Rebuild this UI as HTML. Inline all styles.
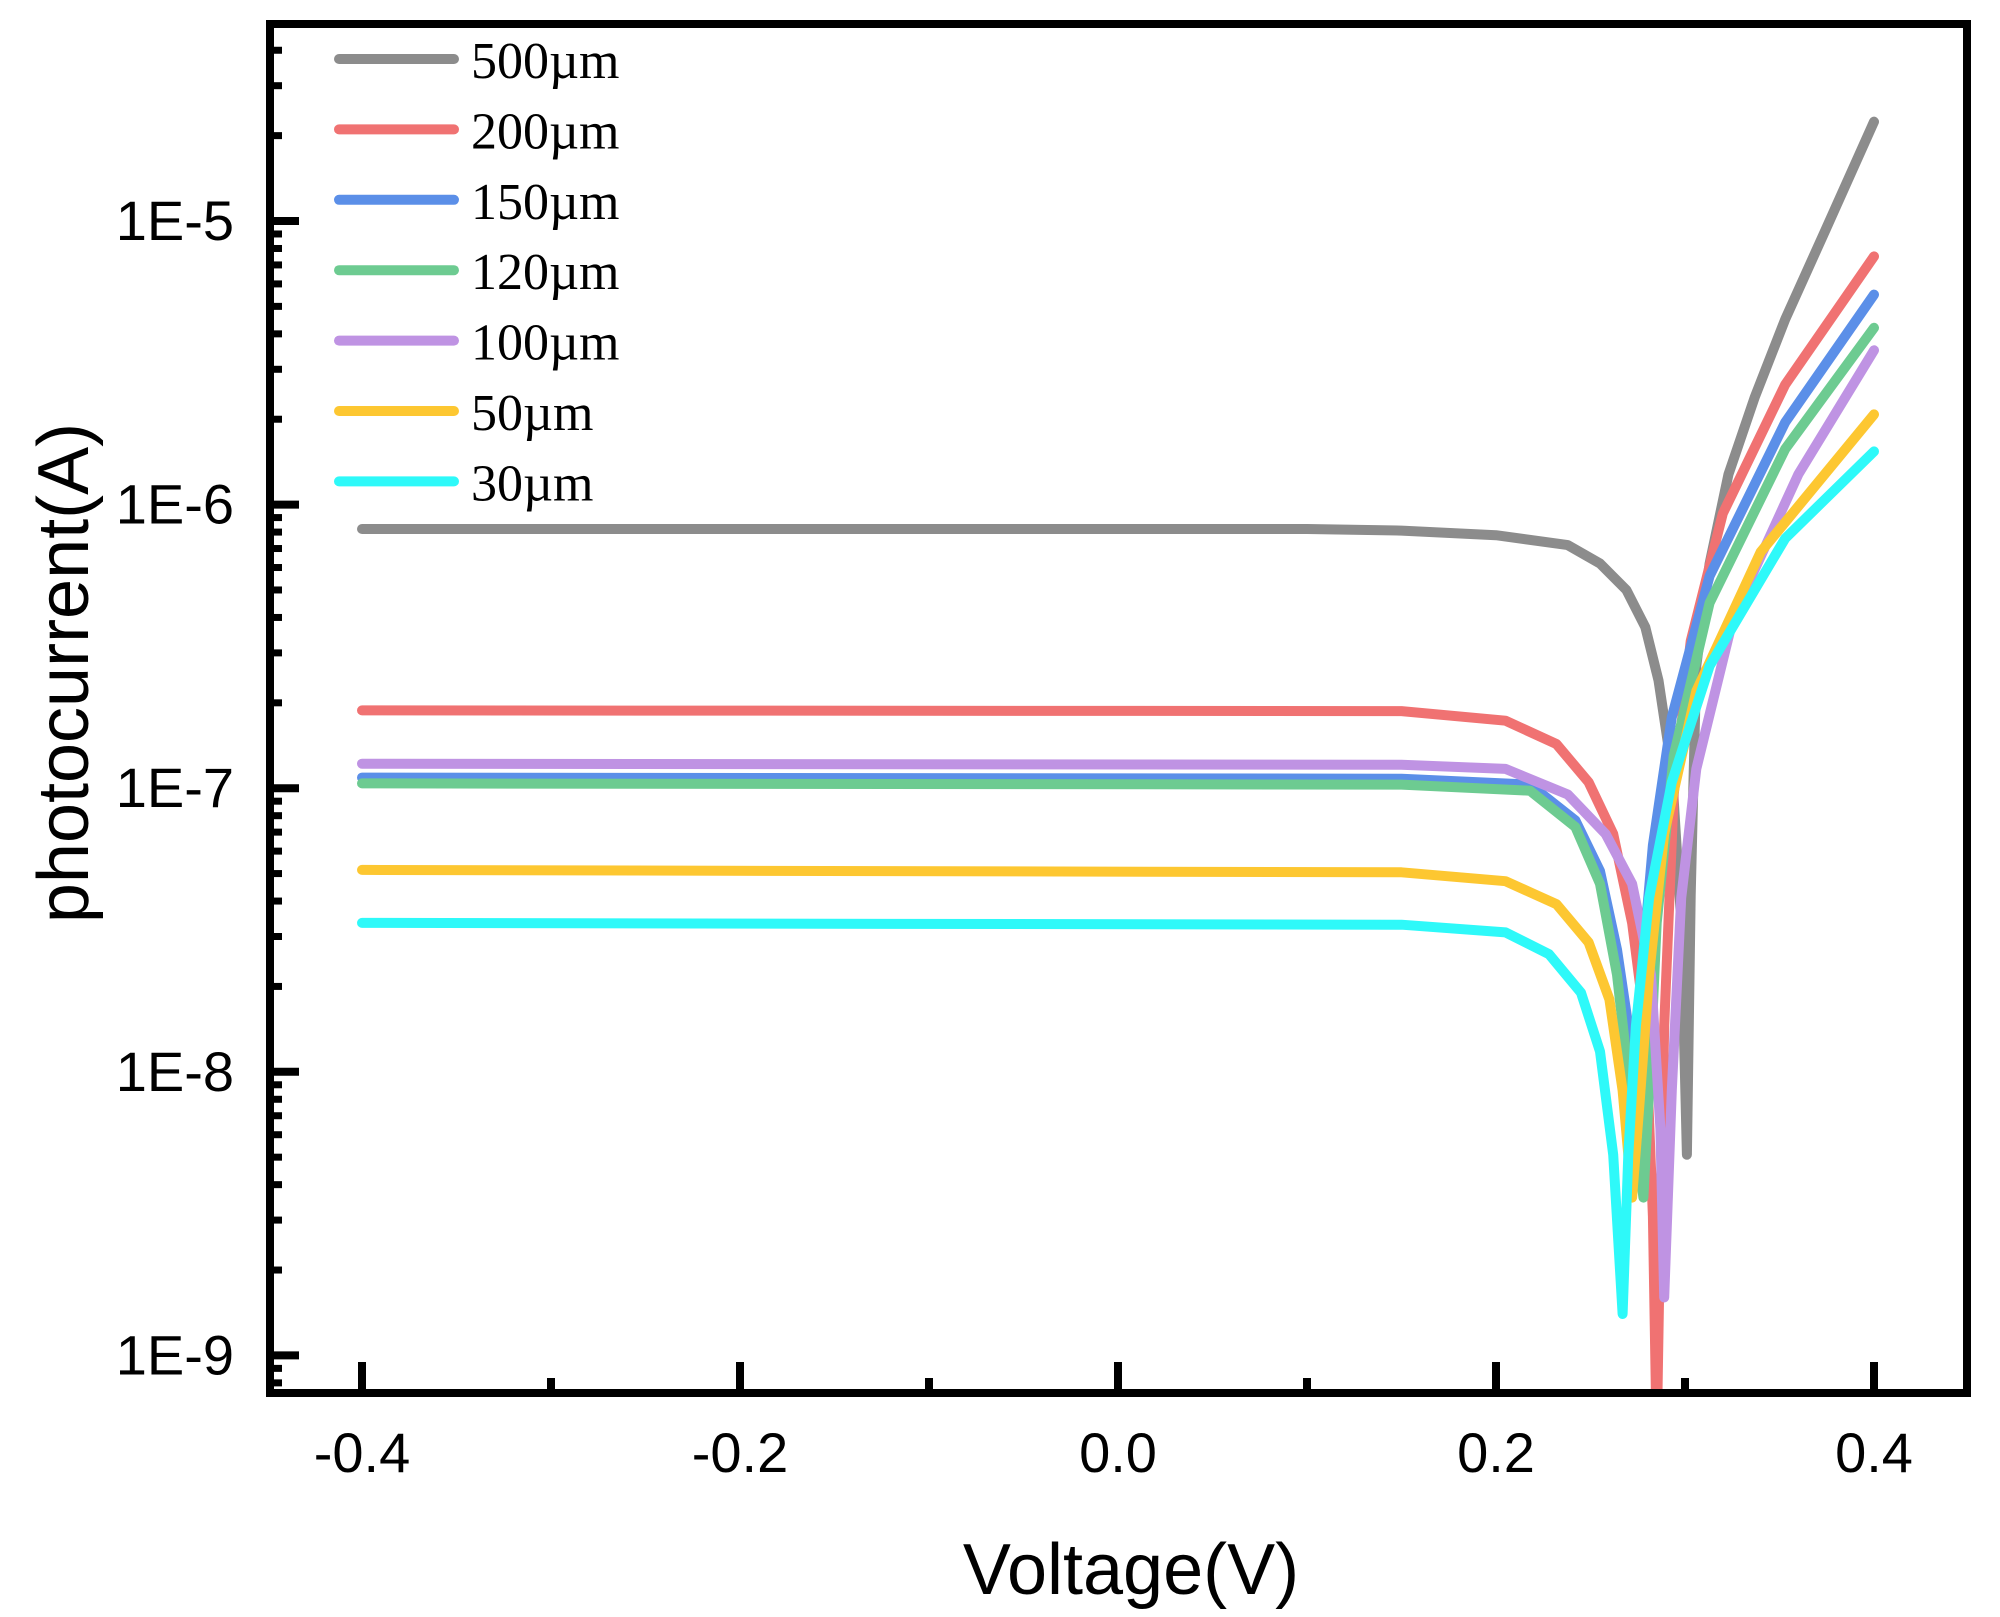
<!DOCTYPE html>
<html><head><meta charset="utf-8"><style>
html,body{margin:0;padding:0;background:#fff;}
svg{display:block;}
</style></head><body>
<svg id="chart" width="2000" height="1617" viewBox="0 0 2000 1617" xmlns="http://www.w3.org/2000/svg">
<defs><clipPath id="plotClip"><rect x="272" y="28" width="1691" height="1361"/></clipPath></defs>
<g id="series" clip-path="url(#plotClip)"></g>
<g id="axes"></g>
<g id="legend"></g>
<text x="1131" y="1594" font-family="Liberation Sans, sans-serif" font-size="72" text-anchor="middle">Voltage(V)</text>
<text transform="translate(88,673) rotate(-90)" font-family="Liberation Sans, sans-serif" font-size="72" text-anchor="middle">photocurrent(A)</text>
</svg>
<script>
const seriesNames = ["500µm","200µm","150µm","120µm","100µm","50µm","30µm"];
const seriesColors = ["#8c8c8c","#f07272","#5b8fe8","#6dcb91","#bf93e3","#fdc731","#2ef9f9"];
const v500 = [-0.4,0.1,0.15,0.2,0.238,0.255,0.269,0.279,0.286,0.293,0.298,0.301,0.303,0.306,0.313,0.323,0.337,0.353,0.374,0.4];
const i500 = [8.2e-7,8.2e-7,8.1e-7,7.8e-7,7.2e-7,6.2e-7,5.0e-7,3.7e-7,2.4e-7,1.17e-7,3.4e-8,5.1e-9,4.2e-8,2.7e-7,6.2e-7,1.28e-6,2.4e-6,4.5e-6,9.2e-6,2.24e-5];
const v200 = [-0.4,0.15,0.205,0.232,0.249,0.262,0.272,0.279,0.283,0.285,0.287,0.289,0.294,0.303,0.32,0.353,0.4];
const i200 = [1.88e-7,1.87e-7,1.73e-7,1.43e-7,1.05e-7,6.9e-8,3.35e-8,1.45e-8,3.1e-9,5e-10,3.1e-9,1.45e-8,9.5e-8,3.3e-7,9.3e-7,2.65e-6,7.5e-6];
const v150 = [-0.4,0.15,0.218,0.242,0.255,0.264,0.27,0.274,0.277,0.283,0.293,0.313,0.353,0.4];
const i150 = [1.09e-7,1.08e-7,1.03e-7,7.7e-8,5.1e-8,2.7e-8,1.45e-8,8.2e-9,2.2e-8,6.3e-8,1.78e-7,5.6e-7,1.95e-6,5.5e-6];
const v120 = [-0.4,0.15,0.218,0.242,0.255,0.264,0.271,0.278,0.281,0.285,0.294,0.313,0.353,0.4];
const i120 = [1.04e-7,1.03e-7,9.8e-8,7.3e-8,4.6e-8,2.2e-8,8.6e-9,3.6e-9,8.6e-9,3.35e-8,1.3e-7,4.5e-7,1.57e-6,4.2e-6];
const v100 = [-0.4,0.15,0.205,0.238,0.258,0.272,0.282,0.287,0.289,0.293,0.298,0.306,0.326,0.36,0.4];
const i100 = [1.22e-7,1.21e-7,1.17e-7,9.5e-8,6.9e-8,4.6e-8,2.2e-8,6.3e-9,1.6e-9,8.6e-9,4.1e-8,1.17e-7,4.1e-7,1.28e-6,3.5e-6];
const v50 = [-0.4,0.15,0.205,0.232,0.249,0.26,0.267,0.272,0.276,0.281,0.289,0.306,0.34,0.4];
const i50 = [5.15e-8,5.05e-8,4.7e-8,3.9e-8,2.86e-8,1.8e-8,8.6e-9,3.6e-9,7.8e-9,2.2e-8,6.9e-8,2.2e-7,6.8e-7,2.08e-6];
const v30 = [-0.4,0.15,0.205,0.228,0.245,0.255,0.262,0.267,0.27,0.274,0.281,0.293,0.313,0.353,0.4];
const i30 = [3.35e-8,3.3e-8,3.1e-8,2.6e-8,1.9e-8,1.18e-8,5.1e-9,1.4e-9,5.1e-9,1.45e-8,4.1e-8,1.05e-7,2.7e-7,7.6e-7,1.54e-6];
const xTicks = [-0.4,-0.2,0.0,0.2,0.4];
const xTickLabels = ["-0.4","-0.2","0.0","0.2","0.4"];
const xMinorTicks = [-0.3,-0.1,0.1,0.3];
const yTickExps = [-9,-8,-7,-6,-5];
const yTickLabels = ["1E-9","1E-8","1E-7","1E-6","1E-5"];

const allV = [v500,v200,v150,v120,v100,v50,v30];
const allI = [i500,i200,i150,i120,i100,i50,i30];
const NS = "http://www.w3.org/2000/svg";
function xS(v){ return 362 + (v + 0.4) * 1890; }
function yS(val){ return 221 + (-5 - Math.log10(val)) * 283.6; }
function mk(tag, attrs, parent){ const e = document.createElementNS(NS, tag); for (const k in attrs) e.setAttribute(k, attrs[k]); parent.appendChild(e); return e; }

const sg = document.getElementById('series');
for (let s = 0; s < allV.length; s++) {
  const pts = allV[s].map((v, j) => xS(v).toFixed(1) + ',' + yS(allI[s][j]).toFixed(1)).join(' ');
  const pl = mk('polyline', {points: pts, fill: 'none', stroke: seriesColors[s], 'stroke-width': 10, 'stroke-linejoin': 'round', 'stroke-linecap': 'round'}, sg);
  
  
}

const ax = document.getElementById('axes');
const frame = mk('rect', {x: 270, y: 24, width: 1697, height: 1369, fill: 'none', stroke: '#000', 'stroke-width': 8}, ax);


const yB = 1393;
xTicks.forEach((v, i) => {
  const t = mk('line', {x1: xS(v), x2: xS(v), y1: yB, y2: yB - 31, stroke: '#000', 'stroke-width': 8}, ax);
  
  
  const lb = mk('text', {x: xS(v), y: 1472, 'font-family': 'Liberation Sans, sans-serif', 'font-size': 56, 'text-anchor': 'middle'}, ax);
  lb.textContent = xTickLabels[i];
  
  
});
xMinorTicks.forEach(v => {
  const t = mk('line', {x1: xS(v), x2: xS(v), y1: yB, y2: yB - 15, stroke: '#000', 'stroke-width': 8}, ax);
  
  
});
const xL = 270;
yTickExps.forEach((e, i) => {
  const y = yS(Math.pow(10, e));
  const t = mk('line', {x1: xL, x2: xL + 29, y1: y, y2: y, stroke: '#000', 'stroke-width': 8}, ax);
  
  
  const lb = mk('text', {x: 234, y: y + 19, 'font-family': 'Liberation Sans, sans-serif', 'font-size': 56, 'text-anchor': 'end'}, ax);
  lb.textContent = yTickLabels[i];
  
  
});
for (let e = -10; e <= -5; e++) {
  for (let m = 2; m <= 9; m++) {
    const y = yS(m * Math.pow(10, e));
    if (y < 30 || y > 1388) continue;
    const t = mk('line', {x1: xL, x2: xL + 12, y1: y, y2: y, stroke: '#000', 'stroke-width': 7}, ax);
    
    
  }
}

const lg = document.getElementById('legend');
seriesNames.forEach((n, i) => {
  const y = 59 + i * 70.4;
  const ln = mk('line', {x1: 339, x2: 454, y1: y, y2: y, stroke: seriesColors[i], 'stroke-width': 10, 'stroke-linecap': 'round'}, lg);
  
  
  const tx = mk('text', {x: 471, y: y + 19, 'font-family': 'Liberation Serif, serif', 'font-size': 52}, lg);
  tx.textContent = n;
  
  
});
</script>
</body></html>
